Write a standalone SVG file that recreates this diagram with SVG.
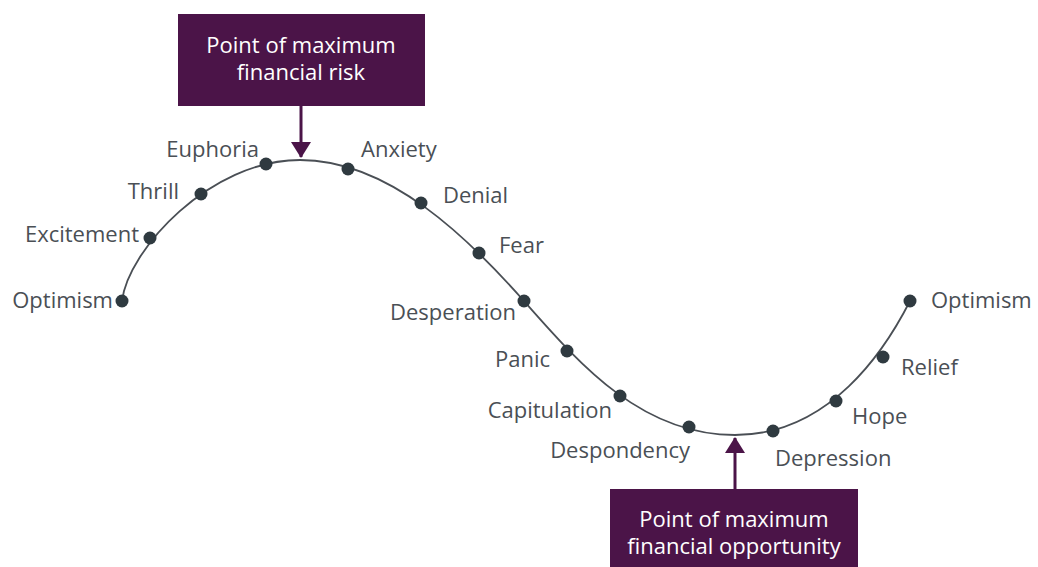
<svg xmlns="http://www.w3.org/2000/svg" width="1038" height="567" viewBox="0 0 1038 567">
<defs>
<style>
.lbl{font-family:"Open Sans","Liberation Sans",sans-serif;font-size:22px;fill:#4a4f55}
.box{fill:#4b1448}
.btxt{font-family:"Open Sans","Liberation Sans",sans-serif;font-size:22px;fill:#ffffff;text-anchor:middle}
.dot{fill:#2f3a40}
.curve{fill:none;stroke:#4a4f55;stroke-width:1.8}
.arr{stroke:#4b1448;stroke-width:3;fill:none}
</style>
<marker id="ah" viewBox="0 0 16 20" refX="15" refY="10" markerWidth="16" markerHeight="20" markerUnits="userSpaceOnUse" orient="auto">
<path d="M0,0 L16,10 L0,20 z" fill="#4b1448"/>
</marker>
</defs>
<rect width="1038" height="567" fill="#ffffff"/>
<g id="connectors">
<path class="curve" d="M122,301 C128,250 210,160 300,160 C390,160 470,240 524,301 C578,362 640,435 735,435 C830,435 885,350 910,301"/>
<line class="arr" x1="301" y1="106" x2="301" y2="157" marker-end="url(#ah)"/>
<line class="arr" x1="735" y1="489" x2="735" y2="438" marker-end="url(#ah)"/>
</g>
<g id="risk-box">
<rect class="box" x="178" y="14" width="247" height="92"/>
<text class="btxt" x="301" y="53">Point of maximum</text>
<text class="btxt" x="301" y="80">financial risk</text>
</g>
<g id="opportunity-box">
<rect class="box" x="610" y="489" width="248" height="78"/>
<text class="btxt" x="734" y="527">Point of maximum</text>
<text class="btxt" x="734" y="554">financial opportunity</text>
</g>
<g id="optimism-left"><circle class="dot" cx="122" cy="301" r="6.5"/><text class="lbl" x="113" y="308" text-anchor="end">Optimism</text></g>
<g id="excitement"><circle class="dot" cx="150" cy="238" r="6.5"/><text class="lbl" x="139" y="242" text-anchor="end">Excitement</text></g>
<g id="thrill"><circle class="dot" cx="201" cy="194" r="6.5"/><text class="lbl" x="179" y="199" text-anchor="end">Thrill</text></g>
<g id="euphoria"><circle class="dot" cx="266" cy="164" r="6.5"/><text class="lbl" x="259" y="157" text-anchor="end">Euphoria</text></g>
<g id="anxiety"><circle class="dot" cx="348" cy="169" r="6.5"/><text class="lbl" x="361" y="157">Anxiety</text></g>
<g id="denial"><circle class="dot" cx="421" cy="203" r="6.5"/><text class="lbl" x="443" y="203">Denial</text></g>
<g id="fear"><circle class="dot" cx="479" cy="253" r="6.5"/><text class="lbl" x="499" y="253">Fear</text></g>
<g id="desperation"><circle class="dot" cx="524" cy="301" r="6.5"/><text class="lbl" x="516" y="320" text-anchor="end">Desperation</text></g>
<g id="panic"><circle class="dot" cx="567" cy="351" r="6.5"/><text class="lbl" x="550" y="367" text-anchor="end">Panic</text></g>
<g id="capitulation"><circle class="dot" cx="620" cy="396" r="6.5"/><text class="lbl" x="612" y="418" text-anchor="end">Capitulation</text></g>
<g id="despondency"><circle class="dot" cx="689" cy="427" r="6.5"/><text class="lbl" x="690" y="458" text-anchor="end">Despondency</text></g>
<g id="depression"><circle class="dot" cx="773" cy="431" r="6.5"/><text class="lbl" x="775" y="466">Depression</text></g>
<g id="hope"><circle class="dot" cx="836" cy="401" r="6.5"/><text class="lbl" x="852" y="424">Hope</text></g>
<g id="relief"><circle class="dot" cx="883" cy="357" r="6.5"/><text class="lbl" x="901" y="375">Relief</text></g>
<g id="optimism-right"><circle class="dot" cx="910" cy="301" r="6.5"/><text class="lbl" x="931" y="308">Optimism</text></g>
</svg>
